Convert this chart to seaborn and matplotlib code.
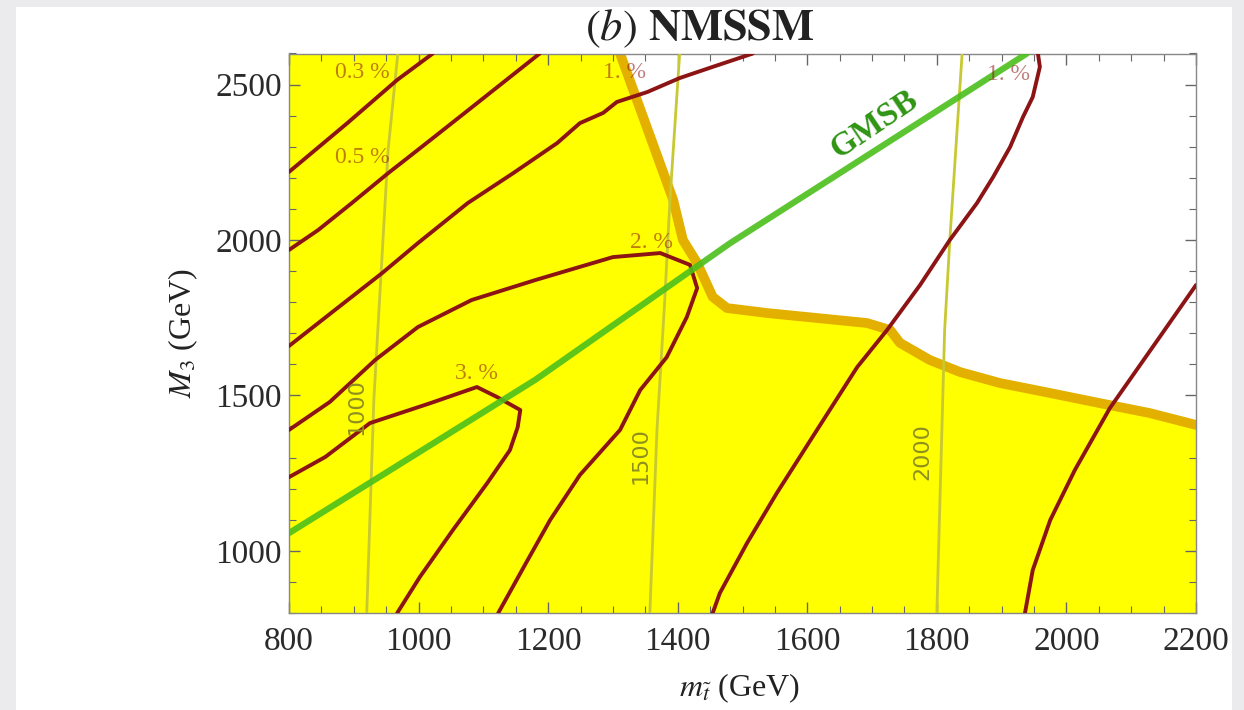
import matplotlib
matplotlib.use('Agg')
import matplotlib.pyplot as plt
import seaborn as sns
from matplotlib.ticker import MultipleLocator
from matplotlib.patches import Rectangle

# Excluded-region boundary (yellow below / left of it)
bound_x = [1311, 1393, 1408, 1430, 1454, 1476, 1538, 1615, 1692, 1728, 1743, 1789, 1836, 1897, 1974, 2052, 2129, 2200]
bound_y = [2600, 2129, 2000, 1926, 1817, 1781, 1765, 1749, 1733, 1710, 1669, 1614, 1575, 1540, 1508, 1475, 1443, 1405]

# GMSB line
gmsb_x = [800, 1180, 1481, 1939]
gmsb_y = [1057, 1550, 1990, 2600]

# stop-mass contours (1000, 1500, 2000)
m1000_x = [968, 953, 931, 920]
m1000_y = [2600, 2290, 1487, 800]
m1500_x = [1403, 1388, 1380, 1368, 1357]
m1500_y = [2600, 2129, 1807, 1389, 800]
m2000_x = [1839, 1820, 1812, 1800]
m2000_y = [2600, 2000, 1710, 800]

# fine-tuning contours
c03_x = [800, 890, 967, 1022]
c03_y = [2219, 2376, 2515, 2600]
c05_x = [800, 845, 897, 953, 999, 1075, 1187]
c05_y = [1968, 2032, 2119, 2215, 2290, 2415, 2600]
c1a_x = [800, 871, 944, 999, 1076, 1146, 1214, 1249, 1285, 1306, 1353, 1403, 1454, 1516]
c1a_y = [1659, 1775, 1894, 1990, 2119, 2215, 2312, 2376, 2409, 2444, 2476, 2521, 2557, 2600]
c2_x = [800, 863, 933, 999, 1082, 1180, 1300, 1373, 1419, 1430, 1414, 1383, 1342, 1311, 1249, 1203, 1164, 1123]
c2_y = [1389, 1479, 1614, 1720, 1807, 1871, 1945, 1958, 1920, 1845, 1752, 1623, 1517, 1389, 1244, 1099, 954, 800]
c3_x = [800, 856, 925, 1018, 1090, 1121, 1157, 1153, 1141, 1106, 1053, 1002, 967]
c3_y = [1237, 1302, 1411, 1475, 1527, 1495, 1453, 1398, 1324, 1218, 1067, 916, 800]
c1b_x = [1956, 1959, 1948, 1933, 1913, 1887, 1862, 1820, 1774, 1723, 1677, 1615, 1553, 1507, 1465, 1454]
c1b_y = [2600, 2557, 2460, 2396, 2299, 2203, 2119, 2000, 1855, 1710, 1591, 1389, 1186, 1025, 864, 800]
c05b_x = [2200, 2144, 2067, 2013, 1975, 1948, 1936]
c05b_y = [1855, 1688, 1459, 1260, 1099, 938, 800]

pct_labels = ['0.3 %', '0.5 %', '1. %', '2. %', '3. %', '1. %']
pct_x = [913, 913, 1318, 1360, 1090, 1911]
pct_y = [2540, 2267, 2538, 1992, 1572, 2531]

mass_labels = ['1000', '1500', '2000']
mass_x = [905, 1342, 1778]
mass_y = [1463, 1308, 1318]

sns.set_style('ticks')
plt.rcParams['font.family'] = ['Liberation Serif', 'DejaVu Serif']
plt.rcParams['mathtext.fontset'] = 'stix'

fig = plt.figure(figsize=(12.44, 7.1), dpi=100)
fig.patch.set_facecolor('#ebebee')
fig.patches.append(Rectangle((16 / 1244, 0), (1232 - 16) / 1244, 703 / 710,
                             transform=fig.transFigure, facecolor='white',
                             edgecolor='none', zorder=-10))
ax = fig.add_axes([289 / 1244, 1 - 613 / 710, 907 / 1244, 559.5 / 710])
ax.set_zorder(2)
ax.set_facecolor('white')

xmin, xmax, ymin, ymax = 800, 2200, 800, 2600

# yellow region
ax.fill([xmin, xmin] + bound_x + [xmax], [ymin, ymax] + bound_y + [ymin],
        color='#ffff00', lw=0, zorder=0)

sns.lineplot(x=bound_x, y=bound_y, sort=False, estimator=None, color='#e3b000',
             lw=7, ax=ax, zorder=2)

olive = '#c8c832'
for mx, my in [(m1000_x, m1000_y), (m1500_x, m1500_y), (m2000_x, m2000_y)]:
    sns.lineplot(x=mx, y=my, sort=False, estimator=None, color=olive, lw=2,
                 ax=ax, zorder=3)

red = '#8c1414'
for cx, cy in [(c03_x, c03_y), (c05_x, c05_y), (c1a_x, c1a_y), (c2_x, c2_y),
               (c3_x, c3_y), (c1b_x, c1b_y), (c05b_x, c05b_y)]:
    sns.lineplot(x=cx, y=cy, sort=False, estimator=None, color=red, lw=2.8,
                 ax=ax, zorder=4)

sns.lineplot(x=gmsb_x, y=gmsb_y, sort=False, estimator=None, color='#4cbf1c',
             lw=4.5, alpha=0.9, ax=ax, zorder=5)

for t, x, y in zip(pct_labels, pct_x, pct_y):
    ax.text(x, y, t, color=red, alpha=0.55, fontsize=17, ha='center',
            va='center', zorder=6)
for t, x, y in zip(mass_labels, mass_x, mass_y):
    ax.text(x, y, t, color='#8f8f20', fontsize=16, rotation=90, ha='center',
            va='center', family='DejaVu Sans', zorder=6)

ax.text(1703, 2372, 'GMSB', color='#2f9414', fontsize=24, fontweight='bold',
        rotation=34, ha='center', va='center', zorder=6)

ax.set_xlim(xmin, xmax)
ax.set_ylim(ymin, ymax)
ax.xaxis.set_major_locator(MultipleLocator(200))
ax.xaxis.set_minor_locator(MultipleLocator(50))
ax.yaxis.set_major_locator(MultipleLocator(500))
ax.yaxis.set_minor_locator(MultipleLocator(100))
ax.tick_params(which='both', direction='in', top=True, right=True,
               color='#666666', labelcolor='#2a2a2a', labelsize=24)
ax.tick_params(which='major', length=8, width=1)
ax.tick_params(which='minor', length=5, width=0.8)
ax.tick_params(axis='x', pad=10)
ax.tick_params(axis='y', pad=5)
for s in ax.spines.values():
    s.set_color('#888888')
    s.set_linewidth(1)

ax.set_xlabel(r'$m_{\tilde{t}}$ (GeV)', fontsize=23, color='#222222')
ax.set_ylabel(r'$M_3$ (GeV)', fontsize=23, color='#222222')
ax.xaxis.set_label_coords(0.497, -0.134)
ax.xaxis.label.set_va('center')
ax.yaxis.set_label_coords(-0.117, 0.5)
ax.yaxis.label.set_va('center')

fig.text(700 / 1244, 1 - 40 / 710, r'$\mathit{(b)}$ $\mathbf{NMSSM}$',
         fontsize=32, ha='center', va='baseline', color='#222222')

fig.savefig('out.png', dpi=100, facecolor=fig.get_facecolor())
